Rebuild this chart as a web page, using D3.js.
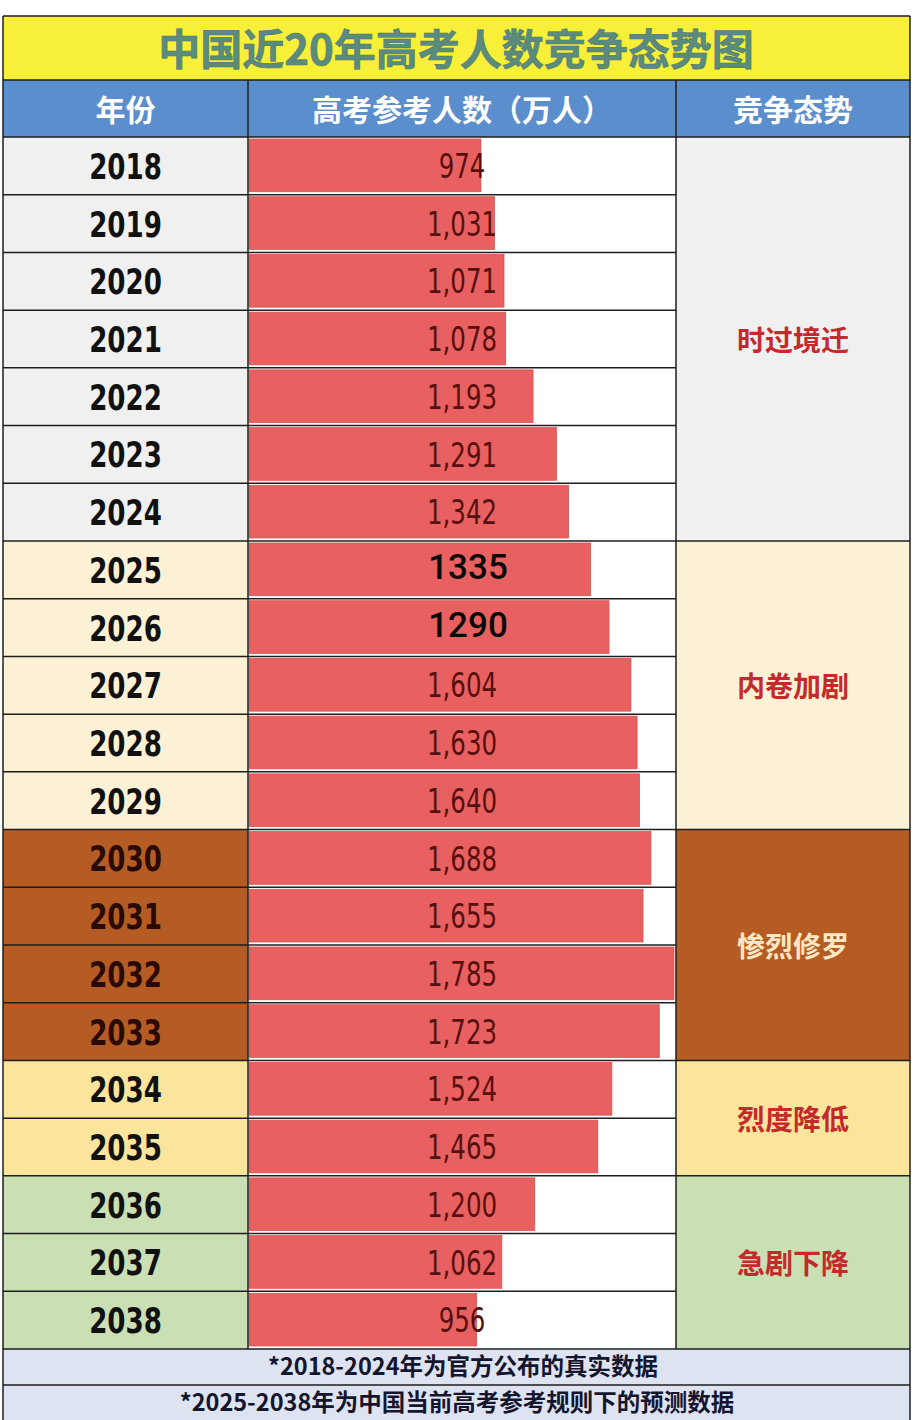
<!DOCTYPE html>
<html>
<head>
<meta charset="utf-8">
<script src="https://cdn.jsdelivr.net/npm/d3@7"></script>
<style>
  html, body { margin: 0; padding: 0; background: #ffffff; }
  svg { display: block; }
</style>
</head>
<body>
<svg id="chart" width="924" height="1420"></svg>
<script>
// ---------------- DATA ----------------
const title = "中国近20年高考人数竞争态势图";
const headers = ["年份", "高考参考人数（万人）", "竞争态势"];
const years = [2018, 2019, 2020, 2021, 2022, 2023, 2024, 2025, 2026, 2027, 2028, 2029, 2030, 2031, 2032, 2033, 2034, 2035, 2036, 2037, 2038];
// bar lengths as drawn in the picture (万人)
const barValues = [974, 1031, 1071, 1078, 1193, 1291, 1342, 1435, 1512, 1604, 1630, 1640, 1688, 1655, 1785, 1723, 1524, 1465, 1200, 1062, 956];
// labels as printed in the picture
const labels = ["974", "1,031", "1,071", "1,078", "1,193", "1,291", "1,342", "1335", "1290", "1,604", "1,630", "1,640", "1,688", "1,655", "1,785", "1,723", "1,524", "1,465", "1,200", "1,062", "956"];
const overwritten = [false, false, false, false, false, false, false, true, true, false, false, false, false, false, false, false, false, false, false, false, false];
const phaseNames = ["时过境迁", "内卷加剧", "惨烈修罗", "烈度降低", "急剧下降"];
const phaseStart = [2018, 2025, 2030, 2034, 2036];
const phaseEnd = [2024, 2029, 2033, 2035, 2038];
const notes = ["*2018-2024年为官方公布的真实数据", "*2025-2038年为中国当前高考参考规则下的预测数据"];

// ---------------- STYLE ----------------
const phaseFill = ["#f0f0f0", "#fdf1d5", "#b45c24", "#fbe49b", "#cadfb3"];
const phaseYearText = ["#111111", "#111111", "#2a0a02", "#111111", "#111111"];
const phaseNoteText = ["#c22a2c", "#c22a2c", "#fbe7c4", "#c22a2c", "#c22a2c"];
const L = { left: 3, right: 910, c1: 248, c2: 676, titleTop: 16, headTop: 80, rowsTop: 137, rowsBottom: 1349, foot1: 1385, foot2: 1420 };
const cjk = "'Noto Sans CJK SC', 'Noto Sans', sans-serif";
const cond = "'DejaVu Sans Condensed', 'DejaVu Sans', sans-serif";

const svg = d3.select("#chart");

// scales
const y = d3.scaleBand().domain(years).range([L.rowsTop, L.rowsBottom]).padding(0);
const x = d3.scaleLinear().domain([0, 1785]).range([L.c1 + 1, 674]);
const bw = y.bandwidth();
const phaseOf = yr => phaseStart.findIndex((s, i) => yr >= s && yr <= phaseEnd[i]);

// title
svg.append("rect").attr("x", L.left).attr("y", L.titleTop).attr("width", L.right - L.left).attr("height", L.headTop - L.titleTop)
  .attr("fill", "#f7ef38");
svg.append("text").attr("x", 456).attr("y", 46).attr("text-anchor", "middle").attr("dominant-baseline", "central")
  .attr("font-family", cjk).attr("font-weight", 700).attr("font-size", 42).attr("fill", "#5b8b7f")
  .attr("stroke", "#4c7a70").attr("stroke-width", 0.6)
  .text(title);

// header
svg.append("rect").attr("x", L.left).attr("y", L.headTop).attr("width", L.right - L.left).attr("height", L.rowsTop - L.headTop)
  .attr("fill", "#5b8ecd");
const headX = [(L.left + L.c1) / 2, (L.c1 + L.c2) / 2, (L.c2 + L.right) / 2];
svg.selectAll("text.head").data(headers).join("text").attr("class", "head")
  .attr("x", (d, i) => headX[i]).attr("y", 108).attr("text-anchor", "middle").attr("dominant-baseline", "central")
  .attr("font-family", cjk).attr("font-weight", 700).attr("font-size", 30).attr("fill", "#ffffff")
  .text(d => d);

// year cells
svg.selectAll("rect.yearcell").data(years).join("rect").attr("class", "yearcell")
  .attr("x", L.left).attr("y", d => y(d)).attr("width", L.c1 - L.left).attr("height", bw)
  .attr("fill", d => phaseFill[phaseOf(d)]);
// bar cells
svg.append("rect").attr("x", L.c1).attr("y", L.rowsTop).attr("width", L.c2 - L.c1).attr("height", L.rowsBottom - L.rowsTop)
  .attr("fill", "#ffffff");
// phase cells
svg.selectAll("rect.phase").data(phaseNames).join("rect").attr("class", "phase")
  .attr("x", L.c2).attr("y", (d, i) => y(phaseStart[i])).attr("width", L.right - L.c2)
  .attr("height", (d, i) => y(phaseEnd[i]) + bw - y(phaseStart[i]))
  .attr("fill", (d, i) => phaseFill[i]);

// bars
svg.selectAll("rect.bar").data(years).join("rect").attr("class", "bar")
  .attr("x", x(0)).attr("y", d => y(d) + 2).attr("height", bw - 5)
  .attr("width", (d, i) => x(barValues[i]) - x(0))
  .attr("fill", "#e8605f").attr("stroke", "#d45454").attr("stroke-width", 0.8);

// grid lines
const g = svg.append("g").attr("stroke", "#1e1e1e").attr("stroke-width", 1.5);
years.slice(1).forEach(yr => {
  g.append("line").attr("x1", L.left).attr("x2", L.c2).attr("y1", y(yr)).attr("y2", y(yr));
});
phaseStart.slice(1).forEach(yr => {
  g.append("line").attr("x1", L.c2).attr("x2", L.right).attr("y1", y(yr)).attr("y2", y(yr));
});
[L.headTop, L.rowsTop, L.rowsBottom, L.foot1].forEach(v => {
  g.append("line").attr("x1", L.left).attr("x2", L.right).attr("y1", v).attr("y2", v);
});
[L.c1, L.c2].forEach(v => {
  g.append("line").attr("x1", v).attr("x2", v).attr("y1", L.headTop).attr("y2", L.rowsBottom);
});
[L.left, L.right].forEach(v => {
  g.append("line").attr("x1", v).attr("x2", v).attr("y1", L.titleTop).attr("y2", L.foot2);
});
g.append("line").attr("x1", L.left).attr("x2", L.right).attr("y1", L.titleTop).attr("y2", L.titleTop);

// year labels (condensed horizontally)
svg.selectAll("text.year").data(years).join("text").attr("class", "year")
  .attr("transform", d => `translate(${(L.left + L.c1) / 2},${y(d) + bw / 2 + 1}) scale(0.83,1)`)
  .attr("text-anchor", "middle").attr("dominant-baseline", "central")
  .attr("font-family", cond).attr("font-weight", 700).attr("font-size", 35)
  .attr("fill", d => phaseYearText[phaseOf(d)])
  .text(d => d);

// value labels
svg.selectAll("text.val").data(years).join("text").attr("class", "val")
  .attr("transform", (d, i) => overwritten[i]
    ? `translate(468,${y(d) + bw / 2 - 2})`
    : `translate(${(L.c1 + L.c2) / 2},${y(d) + bw / 2})  scale(0.8,1)`)
  .attr("text-anchor", "middle").attr("dominant-baseline", "central")
  .attr("font-family", (d, i) => overwritten[i] ? "Roboto, 'Open Sans', sans-serif" : cond)
  .attr("font-weight", (d, i) => overwritten[i] ? 500 : 400)
  .attr("font-size", (d, i) => overwritten[i] ? 35 : 34)
  .attr("fill", (d, i) => overwritten[i] ? "#0a0a0a" : "#55100f")
  .text((d, i) => labels[i]);

// phase labels
svg.selectAll("text.phaseLabel").data(phaseNames).join("text").attr("class", "phaseLabel")
  .attr("x", (L.c2 + L.right) / 2)
  .attr("y", (d, i) => (y(phaseStart[i]) + y(phaseEnd[i]) + bw) / 2)
  .attr("text-anchor", "middle").attr("dominant-baseline", "central")
  .attr("font-family", cjk).attr("font-weight", 700).attr("font-size", 28)
  .attr("fill", (d, i) => phaseNoteText[i])
  .text(d => d);

// footnotes
svg.selectAll("rect.foot").data(notes).join("rect").attr("class", "foot")
  .attr("x", L.left).attr("y", (d, i) => i ? L.foot1 : L.rowsBottom).attr("width", L.right - L.left)
  .attr("height", (d, i) => i ? L.foot2 - L.foot1 : L.foot1 - L.rowsBottom)
  .attr("fill", "#dde3f1");
svg.selectAll("text.foot").data(notes).join("text").attr("class", "foot")
  .attr("x", (d, i) => i ? 457 : 463).attr("y", (d, i) => i ? 1401 : 1365)
  .attr("text-anchor", "middle").attr("dominant-baseline", "central")
  .attr("font-family", cjk).attr("font-weight", 700).attr("font-size", 23.5).attr("fill", "#15152e")
  .text(d => d);
g.raise();
svg.selectAll("text").raise();
</script>
</body>
</html>
